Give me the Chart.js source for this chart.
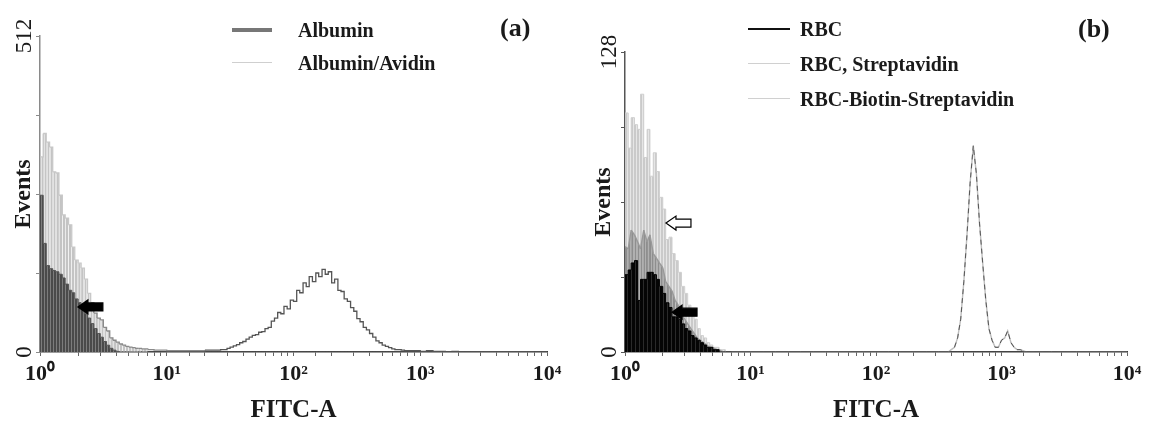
<!DOCTYPE html>
<html>
<head>
<meta charset="utf-8">
<script src="https://cdn.jsdelivr.net/npm/chart.js@4.4.1/dist/chart.umd.min.js"></script>
<style>
  body { margin: 0; background: #fff; }
  #wrap { position: relative; width: 1156px; height: 428px; overflow: hidden; font-family: 'Liberation Serif', 'Times New Roman', serif; color: #1a1a1a; }
  canvas { position: absolute; top: 0; }
  #cA { left: 0; }
  #cB { left: 580px; }
  .row { position: absolute; height: 24px; line-height: 24px; font-size: 20px; font-weight: bold; white-space: nowrap; }
  .row i { position: absolute; left: 0; top: 12px; display: block; }
  .tag { position: absolute; font-size: 26px; font-weight: bold; line-height: 30px; }
</style>
</head>
<body>
<div id="wrap">
  <canvas id="cA" width="580" height="428"></canvas>
  <canvas id="cB" width="576" height="428"></canvas>
  <div class="tag" style="left:500px;top:13px">(a)</div>
  <div class="tag" style="left:1078px;top:14px">(b)</div>
</div>
<script>
const FONT = "'Liberation Serif', 'Times New Roman', serif";
const INK = '#1a1a1a';

// FITC-A channel values (bin starts), panel (a)
const binsA = [
  1.00, 1.06, 1.12, 1.19, 1.26, 1.33, 1.41, 1.50, 1.58, 1.68, 1.78, 1.88, 2.00, 2.11, 2.24, 2.37, 2.51,
  2.66, 2.82, 2.99, 3.16, 3.35, 3.55, 3.76, 3.98, 4.22, 4.47, 4.73, 5.01, 5.31, 5.62, 5.96, 6.31,
  7.08, 7.94, 8.91, 10.0, 11.2, 12.6, 14.1, 15.8, 17.8, 20.0, 22.4,
  25.1, 26.6, 28.2, 29.9, 31.6, 33.5, 35.5, 37.6, 39.8, 42.2, 44.7, 47.3, 50.1, 53.1, 56.2, 59.6,
  63.1, 66.8, 70.8, 75.0, 79.4, 84.1, 89.1, 94.4, 100, 106, 112, 119, 126, 133, 141, 150, 158, 168,
  178, 188, 200, 211, 224, 237, 251, 266, 282, 299, 316, 335, 355, 376, 398, 422, 447, 473, 501, 531,
  562, 596, 631, 668, 708, 750, 794,
  891, 1000, 1120, 1260, 1410, 1580, 1780, 2000, 2240, 2510, 2820, 3160, 3550, 3980, 4470, 5010,
  5620, 6310, 7080, 7940, 8910, 10000
];
const albumin = [
  254, 176, 140, 135, 132, 130, 126, 120, 110, 100, 96, 86, 80, 70, 62, 55, 46,
  38, 30, 24, 17, 11, 6, 3, 1, 0, 0, 0, 0, 0, 0, 0, 0,
  0, 0, 0, 0, 0, 0, 0, 0, 0, 0, 0,
  0, 0, 0, 0, 0, 0, 0, 0, 0, 0, 0, 0, 0, 0, 0, 0,
  0, 0, 0, 0, 0, 0, 0, 0, 0, 0, 0, 0, 0, 0, 0, 0, 0, 0,
  0, 0, 0, 0, 0, 0, 0, 0, 0, 0, 0, 0, 0, 0, 0, 0, 0, 0,
  0, 0, 0, 0, 0, 0, 0,
  0, 0, 0, 0, 0, 0, 0, 0, 0, 0, 0, 0, 0, 0, 0, 0,
  0, 0, 0, 0, 0, 0
];
const albuminAvidin = [
  316, 354, 340, 332, 292, 290, 254, 222, 217, 206, 170, 149, 144, 136, 118, 95, 80,
  63, 55, 52, 40, 34, 23, 19, 16, 13, 11, 9, 8, 7, 6, 6, 5,
  4, 3, 3, 2, 2, 2, 2, 2, 2, 3, 3,
  3, 4, 4, 6, 8, 10, 12, 15, 17, 21, 24, 27, 28, 32, 33, 38,
  40, 50, 55, 64, 62, 74, 70, 84, 82, 100, 96, 112, 106, 122, 114, 128, 122, 134,
  126, 130, 112, 118, 100, 98, 86, 82, 72, 66, 54, 49, 40, 36, 30, 24, 18, 15, 11, 9,
  7, 5, 4, 4, 3, 2, 2,
  2, 1, 2, 1, 1, 0, 1, 0, 0, 0, 0, 0, 0, 0, 0, 0,
  0, 0, 0, 0, 0, 0
];

// FITC-A channel values (bin starts), panel (b)
const binsB = [
  1.00, 1.06, 1.12, 1.19, 1.26, 1.33, 1.41, 1.50, 1.58, 1.68, 1.78, 1.88, 2.00, 2.11, 2.24, 2.37, 2.51,
  2.66, 2.82, 2.99, 3.16, 3.35, 3.55, 3.76, 3.98, 4.22, 4.47, 4.73, 5.01, 5.31, 5.62, 5.96, 6.31,
  7.08, 7.94, 8.91, 10.0, 12.6, 15.8, 20.0, 25.1, 31.6, 39.8, 50.1, 63.1, 79.4, 100, 126, 158, 200, 251, 316,
  355, 376, 398, 422, 447, 473, 501, 531, 562, 596, 631, 668, 708, 750, 794, 841, 891, 944, 1000,
  1060, 1120, 1190, 1260, 1330, 1410,
  1580, 2000, 2510, 3160, 3980, 5010, 6310, 7940, 10000
];
const rbc = [
  33, 35, 38, 39, 22, 31, 31, 34, 34, 33, 31, 28, 25, 21, 19, 15, 15,
  14, 12, 10, 9, 7, 6, 5, 4, 3, 2, 2, 1, 1, 0, 0, 0,
  0, 0, 0, 0, 0, 0, 0, 0, 0, 0, 0, 0, 0, 0, 0, 0, 0, 0, 0,
  0, 0, 0, 0, 0, 0, 0, 0, 0, 0, 0, 0, 0, 0, 0, 0, 0, 0, 0,
  0, 0, 0, 0, 0, 0,
  0, 0, 0, 0, 0, 0, 0, 0, 0
];
const rbcStrep = [
  102, 87, 100, 97, 95, 110, 83, 95, 75, 85, 77, 66, 61, 48, 49, 42, 39,
  34, 28, 25, 20, 17, 14, 10, 7, 6, 4, 3, 2, 2, 1, 1, 0,
  0, 0, 0, 0, 0, 0, 0, 0, 0, 0, 0, 0, 0, 0, 0, 0, 0, 0, 0,
  0, 0, 0, 0, 0, 0, 0, 0, 0, 0, 0, 0, 0, 0, 0, 0, 0, 0, 0,
  0, 0, 0, 0, 0, 0,
  0, 0, 0, 0, 0, 0, 0, 0, 0
];
const rbcBiotinStrep = [
  45, 44, 52, 50, 47, 44, 52, 47, 50, 42, 40, 38, 36, 30, 28, 26, 22,
  20, 16, 14, 12, 10, 8, 6, 5, 4, 3, 2, 2, 1, 1, 0, 0,
  0, 0, 0, 0, 0, 0, 0, 0, 0, 0, 0, 0, 0, 0, 0, 0, 0, 0, 0,
  0, 0, 1, 2, 6, 14, 30, 50, 72, 88, 76, 55, 38, 22, 10, 5, 2, 2, 5,
  6, 9, 4, 2, 1, 1,
  0, 0, 0, 0, 0, 0, 0, 0, 0
];

const namesA = ['Albumin', 'Albumin/Avidin'];
const namesB = ['RBC', 'RBC, Streptavidin', 'RBC-Biotin-Streptavidin'];
const xTickLabels = ['10\u2070', '10\u00b9', '10\u00b2', '10\u00b3', '10\u2074'];
const yMaxA = 512, yMaxB = 128;

// annotation arrows in data units
const arrowsA = [{ x: 1.99, y: 73, hollow: false }];
const arrowsB = [{ x: 2.12, y: 55, hollow: true }, { x: 2.37, y: 17, hollow: false }];

function stripes(c1, c2, w1, w2) {
  const cv = document.createElement('canvas');
  cv.width = w1 + w2; cv.height = 1;
  const g = cv.getContext('2d');
  g.fillStyle = c1; g.fillRect(0, 0, w1, 1);
  g.fillStyle = c2; g.fillRect(w1, 0, w2, 1);
  return g.createPattern(cv, 'repeat');
}

const pts = (bins, vals) => bins.map((x, i) => ({ x, y: vals[i] }));

const arrowPlugin = {
  id: 'arrows',
  afterDatasetsDraw(chart, args, opts) {
    const { ctx, scales: { x, y } } = chart;
    (opts.list || []).forEach(a => {
      const px = x.getPixelForValue(a.x), py = y.getPixelForValue(a.y);
      const L = 25, hl = 10, hh = 7, bh = 4;
      ctx.save();
      ctx.beginPath();
      ctx.moveTo(px, py);
      ctx.lineTo(px + hl, py - hh);
      ctx.lineTo(px + hl, py - bh);
      ctx.lineTo(px + L, py - bh);
      ctx.lineTo(px + L, py + bh);
      ctx.lineTo(px + hl, py + bh);
      ctx.lineTo(px + hl, py + hh);
      ctx.closePath();
      ctx.fillStyle = a.hollow ? '#fff' : '#000';
      ctx.fill();
      ctx.lineWidth = 1.2;
      ctx.strokeStyle = '#000';
      ctx.stroke();
      ctx.restore();
    });
  }
};

function xTick(v) {
  const e = Math.round(Math.log10(v));
  return Math.abs(Math.log10(v) - e) < 1e-9 ? xTickLabels[e] : '';
}

function scalesFor(yMax, yWidth, axisColor) {
  return {
    x: {
      type: 'logarithmic', min: 1, max: 10000,
      border: { display: true, color: '#3a3a3a', width: 1.5 },
      grid: { display: true, drawOnChartArea: false, drawTicks: true, tickLength: 4, color: '#666' },
      ticks: { autoSkip: false, maxRotation: 0, minRotation: 0, padding: 5, color: INK,
               font: { family: FONT, size: 22, weight: 'bold' }, callback: xTick },
      title: { display: true, text: 'FITC-A', color: INK,
               font: { family: FONT, size: 25, weight: 'bold' }, padding: { top: 0, bottom: 2 } },
      afterFit: s => { s.height = 76; }
    },
    y: {
      min: 0, max: yMax,
      border: { display: true, color: axisColor, width: 1.5 },
      grid: { display: true, drawOnChartArea: false, drawTicks: true, tickLength: 4, color: axisColor },
      ticks: { stepSize: yMax / 4, autoSkip: false, minRotation: 90, maxRotation: 90,
               crossAlign: 'center', padding: -6, color: INK, font: { family: FONT, size: 23 },
               callback: v => (v === 0 || v === yMax) ? String(v) : '' },
      title: { display: true, text: 'Events', color: INK,
               font: { family: FONT, size: 24, weight: 'bold' }, padding: { top: 9, bottom: 0 } },
      afterFit: s => { s.width = yWidth; }
    }
  };
}

const base = {
  responsive: false, animation: false, devicePixelRatio: 1,
  plugins: { legend: { display: false }, tooltip: { enabled: false } },
  elements: { point: { radius: 0 }, line: { tension: 0 } }
};

// panel (a)
new Chart(document.getElementById('cA'), {
  type: 'line',
  data: {
    datasets: [
      { label: namesA[0], data: pts(binsA, albumin), stepped: 'before', fill: 'origin',
        backgroundColor: stripes('#4a4a4a', '#7c7c7c', 2, 1), borderColor: '#555', borderWidth: 1 },
      { label: namesA[1], data: pts(binsA, albuminAvidin), stepped: 'before', fill: 'origin',
        backgroundColor: 'rgba(0,0,0,0)', borderColor: '#555', borderWidth: 1.3,
        segment: {
          backgroundColor: c => c.p0.parsed.x < 7 ? stripes('#c4c4c4', '#e2e2e2', 2, 1) : 'rgba(0,0,0,0)',
          borderColor: c => c.p0.parsed.x < 2.4 ? '#c8c8c8' : (c.p0.parsed.x < 20 ? '#8a8a8a' : '#555')
        } }
    ]
  },
  options: { ...base, layout: { padding: { top: 36, right: 33, left: 0, bottom: 0 } },
    scales: scalesFor(yMaxA, 40, '#8a8a8a'),
    plugins: { ...base.plugins, arrows: { list: arrowsA } } },
  plugins: [arrowPlugin]
});

// panel (b)
new Chart(document.getElementById('cB'), {
  type: 'line',
  data: {
    datasets: [
      { label: 'overlay', data: pts(binsB, rbcBiotinStrep), fill: false, borderWidth: 1,
        borderDash: [5, 4], borderColor: '#555',
        segment: { borderColor: c => c.p0.parsed.x > 400 ? '#555' : 'rgba(0,0,0,0)' } },
      { label: namesB[0], data: pts(binsB, rbc), stepped: 'before', fill: 'origin',
        backgroundColor: stripes('#050505', '#2a2a2a', 3, 1), borderColor: '#000', borderWidth: 1 },
      { label: namesB[2], data: pts(binsB, rbcBiotinStrep), fill: 'origin',
        backgroundColor: 'rgba(0,0,0,0)', borderColor: '#bdbdbd', borderWidth: 1.4,
        segment: {
          backgroundColor: c => c.p0.parsed.x < 7 ? stripes('#8e8e8e', '#b0b0b0', 2, 1) : 'rgba(0,0,0,0)',
          borderColor: c => c.p0.parsed.x < 7 ? '#999' : '#bdbdbd'
        } },
      { label: namesB[1], data: pts(binsB, rbcStrep), stepped: 'before', fill: 'origin',
        backgroundColor: stripes('#cacaca', '#e6e6e6', 2, 1), borderColor: '#d0d0d0', borderWidth: 1 }
    ]
  },
  options: { ...base, layout: { padding: { top: 52, right: 29, left: 0, bottom: 0 } },
    scales: scalesFor(yMaxB, 45, '#555'),
    plugins: { ...base.plugins, arrows: { list: arrowsB } } },
  plugins: [arrowPlugin]
});

// legends
function legend(names, styles, lineLeft, textLeft, tops) {
  const wrap = document.getElementById('wrap');
  names.forEach((n, i) => {
    const row = document.createElement('div');
    row.className = 'row';
    row.style.left = lineLeft + 'px';
    row.style.top = tops[i] + 'px';
    row.style.paddingLeft = (textLeft - lineLeft) + 'px';
    const ln = document.createElement('i');
    ln.style.width = styles[i].w + 'px';
    ln.style.borderTop = styles[i].h + 'px solid ' + styles[i].c;
    ln.style.marginTop = (-styles[i].h / 2) + 'px';
    row.appendChild(ln);
    row.appendChild(document.createTextNode(n));
    wrap.appendChild(row);
  });
}
legend(namesA, [{ w: 40, h: 4, c: '#777' }, { w: 40, h: 1.5, c: '#cfcfcf' }], 232, 298, [18, 51]);
legend(namesB, [{ w: 42, h: 2.5, c: '#111' }, { w: 42, h: 1.5, c: '#d0d0d0' }, { w: 42, h: 1.5, c: '#d0d0d0' }],
       748, 800, [17, 52, 87]);
</script>
</body>
</html>
